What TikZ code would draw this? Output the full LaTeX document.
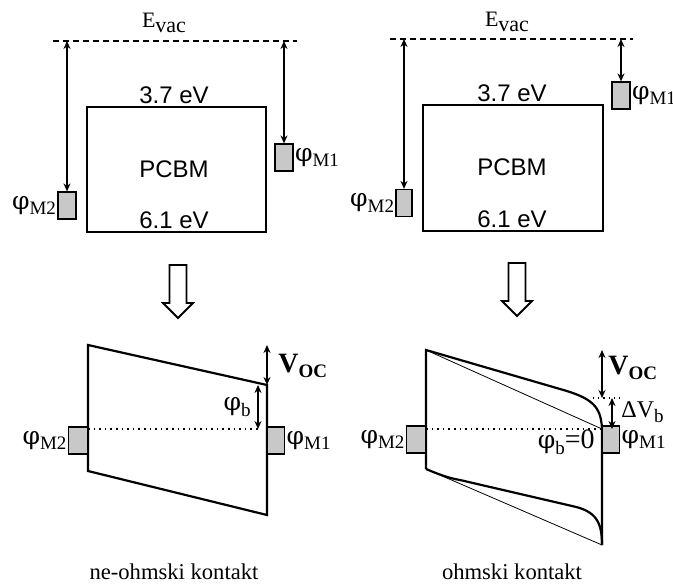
\documentclass[tikz,border=0pt]{standalone}
\usepackage{fontspec}
\setmainfont{Liberation Serif}
\setsansfont{Liberation Sans}
\newfontfamily\grkfont{DejaVu Serif}
\usetikzlibrary{arrows.meta, positioning, calc}
\definecolor{Metal}{HTML}{C8C8C8}
\newcommand{\lowidx}[1]{\raisebox{-0.45ex}{\fontsize{9.5}{10}\selectfont #1}}
\newcommand{\wf}{{\grkfont\fontsize{12.5}{12}\selectfont φ}}
\tikzset{
  metal/.style={
    rectangle, draw, fill=Metal, line width=0.6pt,
    minimum width=9pt, minimum height=13.5pt, inner sep=0pt,
  },
  pcbm/.style={
    rectangle, draw, line width=1pt,
    font=\sffamily\fontsize{12}{12}\selectfont,
    minimum width=89.5pt, minimum height=62.5pt,
  },
  ev/.style={font=\sffamily\fontsize{12}{12}\selectfont, anchor=base, inner sep=0pt},
  evac/.style={font=\fontsize{11}{11}\selectfont, anchor=base, inner sep=0pt},
  vacline/.style={dash pattern=on 3pt off 2pt, line width=1pt},
  dbl/.style={
    {Stealth[length=4pt,width=3.5pt]}-{Stealth[length=4pt,width=3.5pt]},
    line width=0.8pt,
  },
  phil/.style={font=\fontsize{14}{14}\selectfont, inner sep=0.5pt},
  voc/.style={font=\bfseries\fontsize{14}{14}\selectfont, inner sep=0pt, anchor=west},
  band/.style={line width=1.1pt, line join=miter},
  thinband/.style={line width=0.4pt},
  fermi/.style={dotted, line width=0.8pt},
  captxt/.style={font=\fontsize{11.3}{12}\selectfont},
  hollow/.pic={
    \draw[line width=0.9pt, line join=miter]
      (-8.5,0) -- (8.5,0) -- (8.5,38) -- (15,38) -- (0,53)
      -- (-15,38) -- (-8.5,38) -- cycle;
  },
}

\begin{document}
\begin{tikzpicture}[x=0.5pt,y=-0.5pt]
  \useasboundingbox (0,0) rectangle (673,583);

  % --- left: before contact
  \coordinate (vacA1) at (53,41);
  \coordinate (vacA2) at (297,41);
  \draw[vacline] (vacA1) -- (vacA2);
  \node[evac] (evacA) at (164,28) {E\raisebox{-0.4ex}{vac}};
  \node[pcbm] (pcA) at (176.5,169.5) {};
  \node[ev] (pcbmA) at (174,177) {PCBM};
  \node[ev] (lumoA) at (174,104) {3.7 eV};
  \node[ev] (homoA) at (174,228) {6.1 eV};
  \node[metal] (m2A) at (67,205.5) {};
  \node[metal] (m1A) at (284,157.5) {};
  \node[phil, left=0pt of m2A] (l2A) {\wf\lowidx{M2}};
  \node[phil, right=0pt of m1A] (l1A) {\wf\lowidx{M1}};
  \draw[dbl] (m2A.north |- vacA1) -- (m2A.north);
  \draw[dbl] (m1A.north |- vacA1) -- (m1A.north);

  % --- right: before contact
  \coordinate (vacB1) at (390,39);
  \coordinate (vacB2) at (633,39);
  \draw[vacline] (vacB1) -- (vacB2);
  \node[evac] (evacB) at (507,27) {E\raisebox{-0.4ex}{vac}};
  \node[pcbm, minimum width=90pt, minimum height=63pt] (pcB) at (513,168) {};
  \node[ev] (pcbmB) at (512,175) {PCBM};
  \node[ev] (lumoB) at (512,102) {3.7 eV};
  \node[ev] (homoB) at (512,227) {6.1 eV};
  \node[metal, minimum width=8pt] (m2B) at (404,203) {};
  \node[metal] (m1B) at (621,95.5) {};
  \node[phil, left=0pt of m2B] (l2B) {\wf\lowidx{M2}};
  \node[phil, inner sep=0pt, right=0.5pt of m1B] (l1B) {\wf\lowidx{M1}};
  \draw[dbl] (m2B.north |- vacB1) -- (m2B.north);
  \draw[dbl] (m1B.north |- vacB1) -- (m1B.north);

  % --- hollow arrows
  \pic at (178,265) {hollow};
  \pic at (517,263) {hollow};

  % --- left: non-ohmic contact
  \coordinate (tlA) at (88,345);
  \coordinate (trA) at (267,385);
  \coordinate (brA) at (267,515);
  \coordinate (blA) at (88,471);
  \coordinate (efA) at (88,429);
  \coordinate (efA2) at (258,429);
  \draw[band] (tlA) -- (trA) -- (brA) -- (blA) -- cycle;
  \draw[fermi] (efA) -- (efA2);
  \node[metal, minimum width=9.5pt, anchor=east] (bm2A) at (88,440.5) {};
  \node[metal, minimum width=8.5pt, anchor=west] (bm1A) at (267,440.5) {};
  \node[phil, left=0pt of bm2A] (bl2A) {\wf\lowidx{M2}};
  \node[phil, right=0pt of bm1A] (bl1A) {\wf\lowidx{M1}};
  \draw[dbl] (trA |- tlA) -- (trA);
  \draw[dbl] (efA2 |- trA) -- (efA2);
  \node[voc] (vocA) at (278,366) {V\lowidx{\bfseries OC}};
  \node[phil, anchor=east] (phbA) at (252,407) {\wf\lowidx{b}};
  \node[captxt] (capA) at (174,572) {ne-ohmski kontakt};

  % --- right: ohmic contact
  \coordinate (tlB) at (426,350);
  \coordinate (blB) at (426,469);
  \coordinate (efB) at (426,429);
  \coordinate (erB) at (602,429);
  \coordinate (brB) at (602,545);
  \coordinate (dvB) at (602,398);
  \coordinate (dvL) at (593,398);
  \coordinate (dvR) at (623,398);
  \coordinate (dbB) at (612,398);
  \draw[band] (blB) -- (tlB) -- (560,389)
    .. controls (592,398) and (601,406) .. (erB) -- (brB);
  \draw[band] (blB) .. controls (438,474) and (448,478) .. (460,480)
    -- (572,506) .. controls (596,511) and (602,522) .. (brB);
  \draw[thinband] (tlB) -- (erB);
  \draw[thinband] (blB) -- (brB);
  \draw[fermi] (efB) -- (erB);
  \draw[dotted, line width=0.6pt] (dvL) -- (dvR);
  \node[metal, minimum width=9.5pt, anchor=east] (bm2B) at (426,439.5) {};
  \node[metal, minimum width=8.5pt, anchor=west] (bm1B) at (602,439.5) {};
  \node[phil, left=0pt of bm2B] (bl2B) {\wf\lowidx{M2}};
  \node[phil, right=0pt of bm1B] (bl1B) {\wf\lowidx{M1}};
  \draw[dbl] (dvB |- tlB) -- (dvB);
  \draw[dbl] (dbB) -- (dbB |- erB);
  \node[voc] (vocB) at (608,368) {V\lowidx{\bfseries OC}};
  \node[phil, anchor=west, font=\fontsize{12}{12}\selectfont] (dvbB) at (620,412) {ΔV\lowidx{b}};
  \node[phil, anchor=east] (phbB) at (596,442) {\wf\lowidx{b}=0};
  \node[captxt] (capB) at (512,572) {ohmski kontakt};
\end{tikzpicture}
\end{document}
